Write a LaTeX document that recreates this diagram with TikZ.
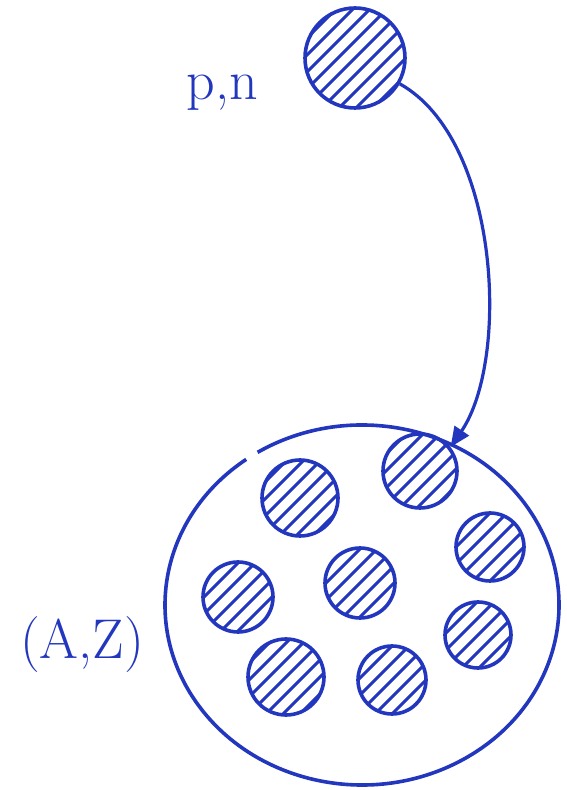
\documentclass[tikz,border=0pt]{standalone}
\usetikzlibrary{arrows.meta}
\definecolor{ink}{RGB}{35,55,190}
\tikzset{
  hatched/.style={circle, draw=ink, line width=3.6pt, inner sep=0pt, minimum size=#1,
    path picture={
      \begin{scope}[shift={(path picture bounding box.center)}]
        \foreach \k in {-85,-68,...,85} {\draw[ink, line width=3pt] (\k pt-70pt,-70pt) -- ++(140pt,140pt);}
      \end{scope}}},
  outline/.style={draw=ink, line width=3.6pt},
  lbl/.style={text=ink, font=\fontsize{56}{60}\selectfont, inner sep=0pt}
}
\begin{document}
\begin{tikzpicture}[x=1pt,y=1pt]
\useasboundingbox (0,0) rectangle (566,790);
% projectile
\node[hatched=100pt] (proj) at (355,732) {};
\node[lbl] (plab) at (222,697) {p,n};
% nucleus outline (with small gap at upper left)
\coordinate (nuc) at (362,185);
\draw[outline] (nuc) ++(122:197 and 180) arc[start angle=122, end angle=-234, x radius=197, y radius=180];
% nucleons
\node[hatched=74pt] (n1) at (420,319) {};
\node[hatched=76pt] (n2) at (300,292) {};
\node[hatched=68pt] (n3) at (490,243) {};
\node[hatched=70pt] (n4) at (360,207) {};
\node[hatched=70pt] (n5) at (238,193) {};
\node[hatched=66pt] (n6) at (478,155) {};
\node[hatched=76pt] (n7) at (286,113) {};
\node[hatched=68pt] (n8) at (392,110) {};
\node[lbl] (nlab) at (82,145) {(A,Z)};
% arrow
\draw[outline, line width=3.2pt, -{Triangle[length=20pt,width=17pt]}]
  (proj.-30) .. controls (500,650) and (510,430) .. (n1.38);
\end{tikzpicture}
\end{document}
